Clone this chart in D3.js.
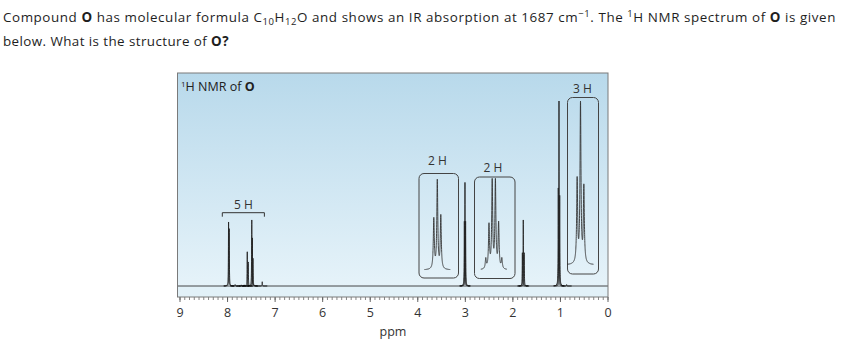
<!DOCTYPE html>
<html><head><meta charset="utf-8">
<script src="https://cdn.jsdelivr.net/npm/d3@7/dist/d3.min.js"></script>
<style>body{margin:0;background:#fff;} svg{display:block;}</style>
</head><body>
<svg id="c" width="855" height="346"></svg>
<script>
// ---------- data ----------
const axisTicks = [9, 8, 7, 6, 5, 4, 3, 2, 1, 0];
// main spectrum components (ppm, relative intensity; 100 = tallest peak)
const mainPpm = [7.968, 7.955, 7.83, 7.70, 7.64, 7.575, 7.555, 7.48, 7.468, 7.455, 7.26,
                 3.010, 2.997, 2.984, 1.790, 1.771, 1.752, 1.035, 1.020, 1.005, 0.86];
const mainInt = [34.6, 31, 0.8, 0.6, 0.6, 18.5, 13, 35.7, 26, 15, 2.3,
                 35, 56, 35, 18, 35.7, 18, 53, 100, 49, 0.8];
// expanded multiplets (insets)
const insetAPpm = [2.974, 2.950, 2.926];            // triplet, 2 H
const insetAInt = [27, 47.6, 28.6];
const insetBPpm = [1.825, 1.803, 1.781, 1.759, 1.737, 1.715]; // sextet, 2 H
const insetBInt = [5.4, 23.4, 47, 47, 24.3, 5.4];
const insetCPpm = [1.023, 1.000, 0.977];            // triplet, 3 H
const insetCInt = [45, 86, 41];
const integralLabels = ["5 H", "2 H", "2 H", "3 H"];

// ---------- layout ----------
const FONT = "'Open Sans', Lato, sans-serif";
const svg = d3.select("#c");
const frame = {x0: 177.5, x1: 608, y0: 73, y1: 297};
const baseY = 286;
const x = d3.scaleLinear().domain([9, 0]).range([179.5, 607.5]);
const y = d3.scaleLinear().domain([0, 100]).range([baseY, 101]);

function add(t, s, txt) { const e = t.append("tspan").text(txt); if (s) Object.entries(s).forEach(([k,v])=>e.attr(k,v)); return e; }
function fit(t, target) {
  const n = t.text().length;
  const w = t.node().getComputedTextLength();
  t.attr("letter-spacing", ((target - w) / n).toFixed(3));
}

// ---------- question text ----------
const q = svg.append("g").attr("font-family", FONT).attr("font-size", 13.4).attr("fill", "#1e1e1e");
const l1 = q.append("text").attr("x", 3).attr("y", 22);
add(l1, null, "Compound ");
add(l1, {"font-weight":"bold"}, "O");
add(l1, null, " has molecular formula C");
add(l1, {"font-size":9.5, dy:3}, "10");
add(l1, {dy:-3}, "H");
add(l1, {"font-size":9.5, dy:3}, "12");
add(l1, {dy:-3}, "O and shows an IR absorption at 1687 cm");
add(l1, {"font-size":9.5, dy:-5}, "−1");
add(l1, {dy:5}, ". The ");
add(l1, {"font-size":9.5, dy:-5}, "1");
add(l1, {dy:5}, "H NMR spectrum of ");
add(l1, {"font-weight":"bold"}, "O");
add(l1, null, " is given");
fit(l1, 833);
const l2 = q.append("text").attr("x", 3).attr("y", 46);
add(l2, null, "below. What is the structure of ");
add(l2, {"font-weight":"bold"}, "O?");
fit(l2, 226);

// ---------- panel background ----------
const defs = svg.append("defs");
const grad = defs.append("linearGradient").attr("id", "bg").attr("x1", 0).attr("x2", 0).attr("y1", 0).attr("y2", 1);
grad.append("stop").attr("offset", 0).attr("stop-color", "#b8d9eb");
grad.append("stop").attr("offset", 1).attr("stop-color", "#e8f4fa");
svg.append("rect").attr("x", frame.x0).attr("y", frame.y0)
  .attr("width", frame.x1 - frame.x0).attr("height", frame.y1 - frame.y0)
  .attr("fill", "url(#bg)");
svg.append("rect").attr("x", frame.x0).attr("y", baseY)
  .attr("width", frame.x1 - frame.x0).attr("height", frame.y1 - baseY)
  .attr("fill", "#e2f1f8");

// ---------- axis ----------
const minor = d3.range(0, 90.5, 1).map(d => d / 10);
svg.append("g").attr("transform", `translate(0,${frame.y1})`)
  .call(d3.axisBottom(x).tickValues(minor).tickSize(3).tickFormat(""))
  .call(g => g.select(".domain").remove())
  .call(g => g.selectAll("line").attr("stroke", "#666").attr("stroke-width", 0.8));
svg.append("g").attr("transform", `translate(0,${frame.y1})`)
  .call(d3.axisBottom(x).tickValues(axisTicks).tickSize(5).tickPadding(6).tickFormat(d3.format("d")))
  .call(g => g.select(".domain").remove())
  .call(g => g.selectAll("line").attr("stroke", "#555").attr("stroke-width", 0.9))
  .call(g => g.selectAll("text").attr("font-family", FONT).attr("font-size", 12.5).attr("fill", "#333"));
svg.append("text").attr("x", 393).attr("y", 336).attr("text-anchor", "middle")
  .attr("font-family", FONT).attr("font-size", 12.5).attr("fill", "#333").text("ppm");

// ---------- spectrum ----------
const W = 0.004; // lorentzian half-width (ppm)
const lor = (p, c, h) => h / (1 + Math.pow((p - c) / W, 2));
const line = d3.line().x(d => d[0]).y(d => d[1]);
svg.append("line").attr("x1", frame.x0).attr("x2", frame.x1).attr("y1", baseY).attr("y2", baseY)
  .attr("stroke", "#333").attr("stroke-width", 0.9);
const spec = svg.append("g").attr("fill", "none").attr("stroke", "#222").attr("stroke-width", 0.9);
mainPpm.forEach((c, i) => {
  const cx = x(c), pts = [];
  for (let px = cx - 5; px <= cx + 5.001; px += 0.05) {
    pts.push([px, y(lor(x.invert(px), c, mainInt[i]))]);
  }
  spec.append("path").attr("d", line(pts));
});

// ---------- insets ----------
function inset(ppm, ints, cx, base, box, label, lab) {
  const c = d3.mean(ppm);
  const k = 146; // px per ppm
  const xs = d3.scaleLinear().domain([c, c - 1]).range([cx, cx + k]);
  const ys = d3.scaleLinear().domain([0, 100]).range([base, base - 185]);
  const pts = [];
  for (let px = cx - 13; px <= cx + 13.001; px += 0.05) {
    const p = xs.invert(px);
    let v = 0;
    ppm.forEach((q, i) => v += ints[i] / (1 + Math.pow((p - q) / W, 2)));
    pts.push([px, ys(v)]);
  }
  svg.append("rect").attr("x", box[0]).attr("y", box[1]).attr("width", box[2] - box[0])
    .attr("height", box[3] - box[1]).attr("rx", 5).attr("fill", "none")
    .attr("stroke", "#444").attr("stroke-width", 1);
  svg.append("path").attr("d", line(pts)).attr("fill", "none").attr("stroke", "#333").attr("stroke-width", 0.9);
  svg.append("text").attr("x", lab[0]).attr("y", lab[1]).attr("text-anchor", "middle")
    .attr("font-family", FONT).attr("font-size", 12).attr("fill", "#333").text(label);
}
inset(insetAPpm, insetAInt, 437.3, 270, [419, 173.5, 458.5, 278], integralLabels[1], [437.5, 165]);
inset(insetBPpm, insetBInt, 493.8, 270, [474.5, 177, 515, 278.5], integralLabels[2], [493, 172]);
inset(insetCPpm, insetCInt, 580.5, 265, [567.5, 97.5, 598.5, 274], integralLabels[3], [582.5, 93]);

// ---------- 5 H bracket ----------
const bx0 = x(8.10), bx1 = x(7.215), by = 212.7;
svg.append("path").attr("d", `M${bx0},${by + 4}V${by}H${bx1}V${by + 4}`)
  .attr("fill", "none").attr("stroke", "#333").attr("stroke-width", 1);
svg.append("text").attr("x", (bx0 + bx1) / 2).attr("y", 209).attr("text-anchor", "middle")
  .attr("font-family", FONT).attr("font-size", 12).attr("fill", "#333").text(integralLabels[0]);

// ---------- panel title ----------
const pt = svg.append("text").attr("x", 181).attr("y", 91).attr("font-family", FONT)
  .attr("font-size", 12.5).attr("fill", "#222");
add(pt, {"font-size": 8, dy: -4}, "1");
add(pt, {dy: 4}, "H NMR of ");
add(pt, {"font-weight": "bold"}, "O");

// frame border
svg.append("rect").attr("x", frame.x0).attr("y", frame.y0)
  .attr("width", frame.x1 - frame.x0).attr("height", frame.y1 - frame.y0)
  .attr("fill", "none").attr("stroke", "#7a7a7a").attr("stroke-width", 1);
</script>
</body></html>
